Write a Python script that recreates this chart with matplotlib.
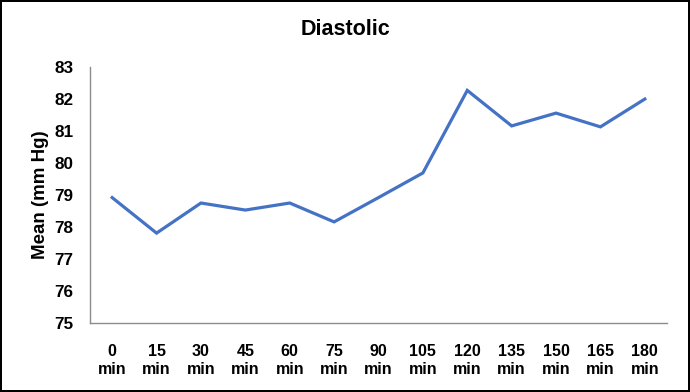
import matplotlib.pyplot as plt

plt.rcParams['font.family'] = ['Liberation Sans', 'DejaVu Sans']

# values
times = ["0", "15", "30", "45", "60", "75", "90", "105", "120", "135", "150", "165", "180"]
mean_dia = [78.92, 77.81, 78.75, 78.53, 78.75, 78.16, 78.92, 79.69, 82.27, 81.16, 81.56, 81.13, 82.0]
labels = [t + "\nmin" for t in times]

fig = plt.figure(figsize=(6.9, 3.92), dpi=100, linewidth=1.5, edgecolor="black")
ax = fig.add_axes([0.1304, 0.176, 0.8363, 0.653])

x = range(len(times))
ax.plot(x, mean_dia, color="#4472C4", lw=2.3, solid_joinstyle="miter")

ax.set_xlim(-0.5, len(times) - 0.5)
ax.set_ylim(75, 83)
ax.set_yticks(range(75, 84))
ax.set_xticks(list(x))
ax.set_xticklabels(labels, fontsize=11.5, fontweight="bold", linespacing=1.3)
for lab in ax.get_yticklabels():
    lab.set_fontsize(12.3)
    lab.set_fontweight("bold")
ax.tick_params(axis="y", length=0, pad=12)
ax.tick_params(axis="x", length=0, pad=15)

for s in ["top", "right"]:
    ax.spines[s].set_visible(False)
for s in ["left", "bottom"]:
    ax.spines[s].set_color("#8C8C8C")
    ax.spines[s].set_linewidth(1)

ax.set_ylabel("Mean (mm Hg)", fontsize=13.5, fontweight="bold", labelpad=4)
fig.text(0.5, 0.925, "Diastolic", ha="center", va="center", fontsize=15.5, fontweight="bold")

fig.savefig("out.png", dpi=100, edgecolor=fig.get_edgecolor())
